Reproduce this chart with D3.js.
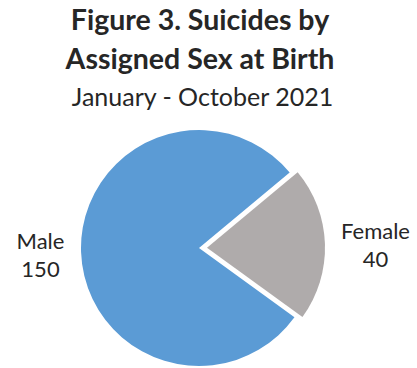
<!DOCTYPE html>
<html>
<head>
<meta charset="utf-8">
<script src="https://cdn.jsdelivr.net/npm/d3@7"></script>
<style>
  html, body { margin: 0; padding: 0; background: #fff; }
  svg { display: block; }
  text { font-family: Lato, "Open Sans", sans-serif; fill: #262626; }
</style>
</head>
<body>
<script>
// Suicides by assigned sex at birth, January - October 2021
const categories = ["Male", "Female"];
const values = [150, 40];
const colors = ["#5B9BD5", "#AFABAB"];
const titleLines = ["Figure 3. Suicides by", "Assigned Sex at Birth"];
const subtitle = "January - October 2021";

const W = 417, H = 368;
const svg = d3.select("body").append("svg").attr("width", W).attr("height", H);

// Title block
svg.selectAll("text.title")
  .data(titleLines)
  .join("text")
  .attr("class", "title")
  .attr("x", 200)
  .attr("y", (d, i) => 30 + i * 38.5)
  .attr("text-anchor", "middle")
  .attr("font-weight", "bold")
  .attr("font-size", 28.5)
  .text(d => d);

svg.append("text")
  .attr("x", 202.5)
  .attr("y", 106)
  .attr("text-anchor", "middle")
  .attr("font-size", 25)
  .text(subtitle);

// Pie
const cx = 199, cy = 248, r = 118, explode = 8;
const pie = d3.pie().sort(null)
  .startAngle(126 * Math.PI / 180)
  .endAngle(486 * Math.PI / 180);
const arcs = pie(values);
const arc = d3.arc().innerRadius(0).outerRadius(r);

const g = svg.append("g").attr("transform", `translate(${cx},${cy})`);
g.selectAll("path")
  .data(arcs)
  .join("path")
  .attr("d", arc)
  .attr("fill", (d, i) => colors[i])
  .attr("transform", (d, i) => {
    if (i === 0) return null;
    const a = (d.startAngle + d.endAngle) / 2;
    return `translate(${explode * Math.sin(a)},${-explode * Math.cos(a)})`;
  });

// Category labels with values
const labelPos = [[40.5, 249], [375.5, 239]];
categories.forEach((c, i) => {
  const t = svg.append("text")
    .attr("x", labelPos[i][0])
    .attr("y", labelPos[i][1])
    .attr("text-anchor", "middle")
    .attr("font-size", 22);
  t.append("tspan").attr("x", labelPos[i][0]).text(c);
  t.append("tspan").attr("x", labelPos[i][0]).attr("dy", 28).text(values[i]);
});
</script>
</body>
</html>
